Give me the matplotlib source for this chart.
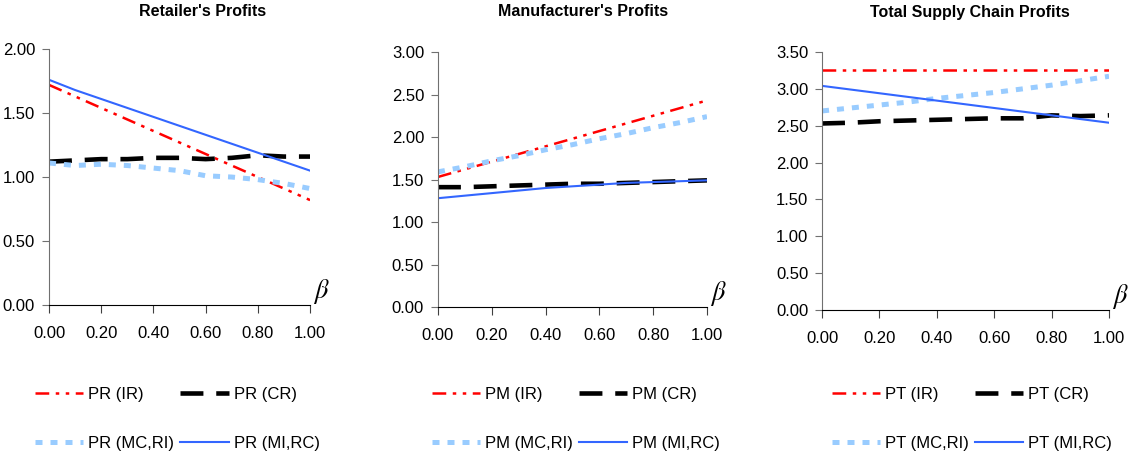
import numpy as np
import matplotlib
matplotlib.use('Agg')
import matplotlib.pyplot as plt
from matplotlib.ticker import FormatStrFormatter

plt.rcParams['font.family'] = ['Liberation Sans Narrow', 'Liberation Sans', 'DejaVu Sans']

# beta values (x axis)
beta = [0.0, 0.1, 0.2, 0.3, 0.4, 0.5, 0.6, 0.7, 0.8, 0.9, 1.0]

# Retailer's profits
pr_ir = [1.72, 1.63, 1.54, 1.45, 1.36, 1.27, 1.18, 1.09, 1.00, 0.91, 0.82]
pr_cr = [1.12, 1.13, 1.14, 1.14, 1.15, 1.15, 1.14, 1.15, 1.17, 1.16, 1.16]
pr_mcri = [1.11, 1.09, 1.10, 1.09, 1.07, 1.05, 1.01, 1.00, 0.98, 0.95, 0.91]
pr_mirc = [1.76, 1.68, 1.61, 1.54, 1.47, 1.40, 1.33, 1.26, 1.19, 1.12, 1.05]

# Manufacturer's profits
pm_ir = [1.53, 1.62, 1.71, 1.80, 1.89, 1.98, 2.07, 2.16, 2.25, 2.34, 2.43]
pm_cr = [1.41, 1.41, 1.42, 1.43, 1.44, 1.45, 1.45, 1.46, 1.47, 1.48, 1.49]
pm_mcri = [1.59, 1.65, 1.72, 1.78, 1.85, 1.91, 1.98, 2.04, 2.11, 2.17, 2.24]
pm_mirc = [1.28, 1.31, 1.34, 1.37, 1.40, 1.42, 1.44, 1.46, 1.47, 1.48, 1.49]

# Total supply chain profits
pt_ir = [3.26, 3.26, 3.26, 3.26, 3.26, 3.26, 3.26, 3.26, 3.26, 3.26, 3.26]
pt_cr = [2.53, 2.54, 2.56, 2.57, 2.58, 2.59, 2.60, 2.60, 2.64, 2.63, 2.64]
pt_mcri = [2.70, 2.74, 2.78, 2.82, 2.87, 2.91, 2.95, 3.00, 3.05, 3.11, 3.17]
pt_mirc = [3.04, 2.99, 2.94, 2.89, 2.84, 2.79, 2.74, 2.69, 2.64, 2.59, 2.54]

titles = ["Retailer's Profits", "Manufacturer's Profits", "Total Supply Chain Profits"]
prefixes = ['PR', 'PM', 'PT']
scenarios = ['IR', 'CR', 'MC,RI', 'MI,RC']


def draw_panel(ax, series, prefix, ymax):
    ir, cr, mcri, mirc = series
    h_ir, = ax.plot(beta, ir, color='#FF0000', lw=1.8, dashes=(5.5, 2.6, 1.4, 2.6, 1.4, 2.6),
                    label=f'{prefix} ({scenarios[0]})')
    h_cr, = ax.plot(beta, cr, color='black', lw=3.3, dashes=(5.0, 2.8),
                    label=f'{prefix} ({scenarios[1]})')
    h_mcri, = ax.plot(beta, mcri, color='#99CCFF', lw=3.6, dashes=(1.4, 1.6),
                      label=f'{prefix} ({scenarios[2]})')
    h_mirc, = ax.plot(beta, mirc, color='#3366FF', lw=1.5,
                      label=f'{prefix} ({scenarios[3]})')

    ax.set_xlim(0, 1)
    ax.set_ylim(0, ymax)
    ax.set_xticks(np.arange(0, 1.01, 0.2))
    ax.set_yticks(np.arange(0, ymax + 0.01, 0.5))
    ax.xaxis.set_major_formatter(FormatStrFormatter('%.2f'))
    ax.yaxis.set_major_formatter(FormatStrFormatter('%.2f'))
    ax.tick_params(axis='x', direction='out', length=6, pad=9, labelsize=12, color='#404040')
    ax.tick_params(axis='y', direction='out', length=5, pad=5, labelsize=12, color='#707070')
    ax.spines['top'].set_visible(False)
    ax.spines['right'].set_visible(False)
    ax.spines['left'].set_color('#707070')
    ax.spines['bottom'].set_color('black')
    ax.text(1.012, -0.005, r'$\beta$', transform=ax.transAxes, fontsize=19,
            ha='left', va='bottom', math_fontfamily='stix')
    # order for the legend: column 1 = IR, MC,RI ; column 2 = CR, MI,RC
    return [h_ir, h_mcri, h_cr, h_mirc]


fig = plt.figure(figsize=(11.37, 4.57), dpi=100)

# axes positions (left, bottom, width, height)
positions = [
    [0.0431, 0.3326, 0.2296, 0.5600],
    [0.3852, 0.3282, 0.2366, 0.5580],
    [0.7230, 0.3217, 0.2524, 0.5646],
]
all_series = [
    (pr_ir, pr_cr, pr_mcri, pr_mirc),
    (pm_ir, pm_cr, pm_mcri, pm_mirc),
    (pt_ir, pt_cr, pt_mcri, pt_mirc),
]
ymaxes = [2.0, 3.0, 3.5]
title_x = [203, 583, 970]
legend_x = [35, 432, 832]

for i in range(3):
    ax = fig.add_axes(positions[i])
    handles = draw_panel(ax, all_series[i], prefixes[i], ymaxes[i])
    fig.text(title_x[i] / 1137, 1 - 12 / 457, titles[i], ha='center', va='center',
             fontsize=11.5, fontweight='bold')
    fig.legend(handles=handles, loc='upper left',
               bbox_to_anchor=(legend_x[i] / 1137, 1 - 387 / 457),
               ncol=2, frameon=False, fontsize=12, handlelength=2.9,
               handletextpad=0.3, columnspacing=0.35, labelspacing=2.05,
               borderpad=0, borderaxespad=0)

plt.savefig('out.png', dpi=100)
